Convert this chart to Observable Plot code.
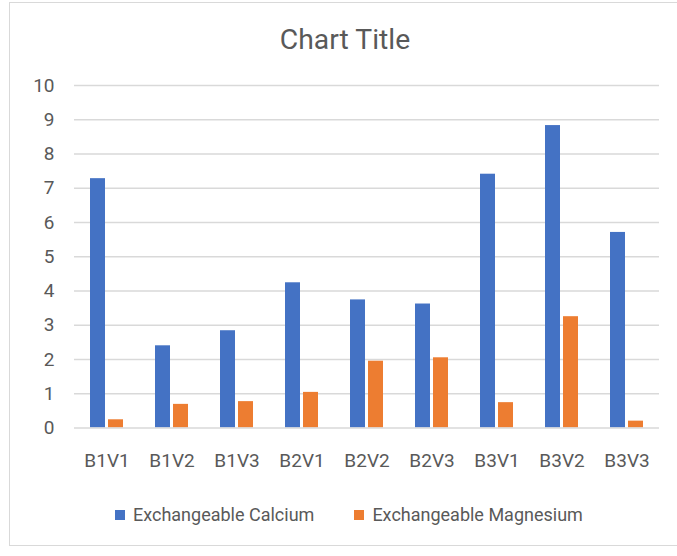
<!DOCTYPE html>
<html>
<head>
<meta charset="utf-8">
<script src="https://cdn.jsdelivr.net/npm/d3@7"></script>
<script src="https://cdn.jsdelivr.net/npm/@observablehq/plot@0.6"></script>
<style>
  html, body { margin: 0; padding: 0; background: #fff; }
  #wrap { position: relative; width: 677px; height: 556px; overflow: hidden; font-family: Roboto, "Open Sans", sans-serif; color: #595959; }
  #frame { position: absolute; left: 9px; top: 2px; width: 700px; height: 544px; border: 1.5px solid #d9d9d9; box-sizing: border-box; }
  #title { position: absolute; left: 0; width: 690px; top: 23px; text-align: center; font-size: 28.3px; }
  #chart { position: absolute; left: 0; top: 60px; }
  #legend { position: absolute; top: 504px; left: 115px; font-size: 18px; display: flex; align-items: center; white-space: nowrap; }
  .sw { display: inline-block; width: 10px; height: 10px; margin-right: 8px; }
  .item { display: flex; align-items: center; margin-right: 40px; }
</style>
</head>
<body>
<div id="wrap">
  <div id="frame"></div>
  <div id="title">Chart Title</div>
  <div id="chart"></div>
  <div id="legend"></div>
</div>
<script>
const categories = ["B1V1", "B1V2", "B1V3", "B2V1", "B2V2", "B2V3", "B3V1", "B3V2", "B3V3"];
const calcium = [7.28, 2.40, 2.84, 4.24, 3.74, 3.62, 7.41, 8.83, 5.71];
const magnesium = [0.24, 0.69, 0.77, 1.04, 1.95, 2.05, 0.74, 3.25, 0.20];
const seriesNames = ["Exchangeable Calcium", "Exchangeable Magnesium"];
const seriesColors = ["#4472C4", "#ED7D31"];
const yTicks = [0, 1, 2, 3, 4, 5, 6, 7, 8, 9, 10];

const caData = categories.map((c, i) => ({cat: c, v: calcium[i]}));
const mgData = categories.map((c, i) => ({cat: c, v: magnesium[i]}));

const chart = Plot.plot({
  width: 677,
  height: 420,
  marginLeft: 74,
  marginRight: 18,
  marginTop: 25,
  marginBottom: 52.5,
  style: {fontFamily: "Roboto, 'Open Sans', sans-serif", fontSize: "19px", color: "#595959", background: "transparent"},
  x: {domain: categories, paddingInner: 0.769, paddingOuter: 0.3845, label: null, tickSize: 0, tickPadding: 25.5},
  y: {domain: [0, 10], ticks: yTicks, label: null, tickSize: 0, tickPadding: 20, tickFormat: d => String(d)},
  marks: [
    Plot.ruleY(yTicks.filter(t => t > 0), {stroke: "#d9d9d9", strokeWidth: 1.3}),
    Plot.barY(caData, {x: "cat", y: "v", fill: seriesColors[0], dx: -9}),
    Plot.barY(mgData, {x: "cat", y: "v", fill: seriesColors[1], dx: 9}),
    Plot.ruleY([0], {stroke: "#d9d9d9", strokeWidth: 1.5})
  ]
});
document.getElementById("chart").appendChild(chart);

const legend = document.getElementById("legend");
seriesNames.forEach((n, i) => {
  const item = document.createElement("div");
  item.className = "item";
  const sw = document.createElement("span");
  sw.className = "sw";
  sw.style.background = seriesColors[i];
  const t = document.createElement("span");
  t.textContent = n;
  item.appendChild(sw);
  item.appendChild(t);
  legend.appendChild(item);
});
</script>
</body>
</html>
